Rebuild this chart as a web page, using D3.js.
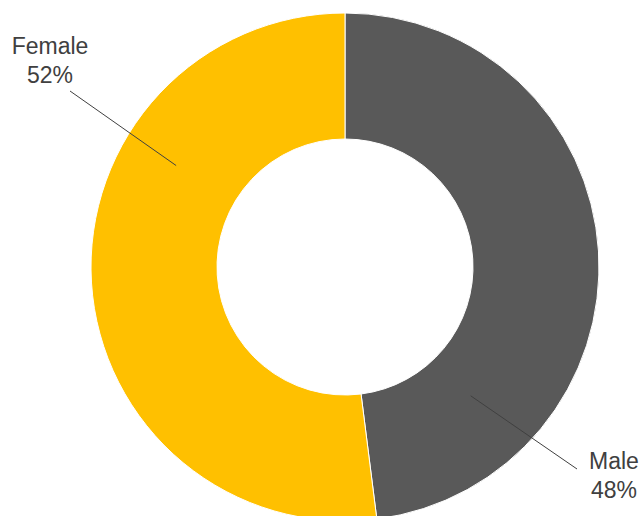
<!DOCTYPE html>
<html>
<head>
<meta charset="utf-8">
<script src="https://cdn.jsdelivr.net/npm/d3@7"></script>
<style>
  html, body { margin: 0; padding: 0; background: #fff; }
  svg { display: block; }
</style>
</head>
<body>
<svg id="chart" width="643" height="516"></svg>
<script>
'use strict';

// data
var categories = ['Male', 'Female'];
var shares = [48, 52];
var colors = ['#595959', '#FFC000'];

// label anchors (annotation placement, not data)
var labelAngles = [135.7, 301];     // degrees from 12 o'clock, clockwise
var labelRadius = [180, 197];
var labelPos = [[614, 469], [50, 54]];
var lineEnd = [[577, 469], [70, 91]];

var width = 643, height = 516;
var cx = 345, cy = 267, outerR = 254, innerR = 128;

var svg = d3.select('#chart');
var g = svg.append('g').attr('transform', 'translate(' + cx + ',' + cy + ')');

var pie = d3.pie().sort(null).value(function (d) { return d; });
var arc = d3.arc().innerRadius(innerR).outerRadius(outerR);

var arcs = pie(shares);

g.selectAll('path.slice')
  .data(arcs)
  .enter().append('path')
  .attr('class', 'slice')
  .attr('d', arc)
  .attr('fill', function (d, i) { return colors[i]; })
  .attr('stroke', '#fff')
  .attr('stroke-width', 1);

// leader lines
arcs.forEach(function (d, i) {
  var a = labelAngles[i] * Math.PI / 180;
  var x1 = cx + labelRadius[i] * Math.sin(a);
  var y1 = cy - labelRadius[i] * Math.cos(a);
  svg.append('line')
    .attr('x1', x1).attr('y1', y1)
    .attr('x2', lineEnd[i][0]).attr('y2', lineEnd[i][1])
    .attr('stroke', '#404040')
    .attr('stroke-width', 1);

  var t = svg.append('text')
    .attr('x', labelPos[i][0])
    .attr('y', labelPos[i][1])
    .attr('text-anchor', 'middle')
    .attr('fill', '#404040')
    .style('font-family', '"Liberation Sans", Arial, sans-serif')
    .style('font-size', '23px');
  t.append('tspan').attr('x', labelPos[i][0]).text(categories[i]);
  t.append('tspan').attr('x', labelPos[i][0]).attr('dy', 29).text(shares[i] + '%');
});
</script>
</body>
</html>
